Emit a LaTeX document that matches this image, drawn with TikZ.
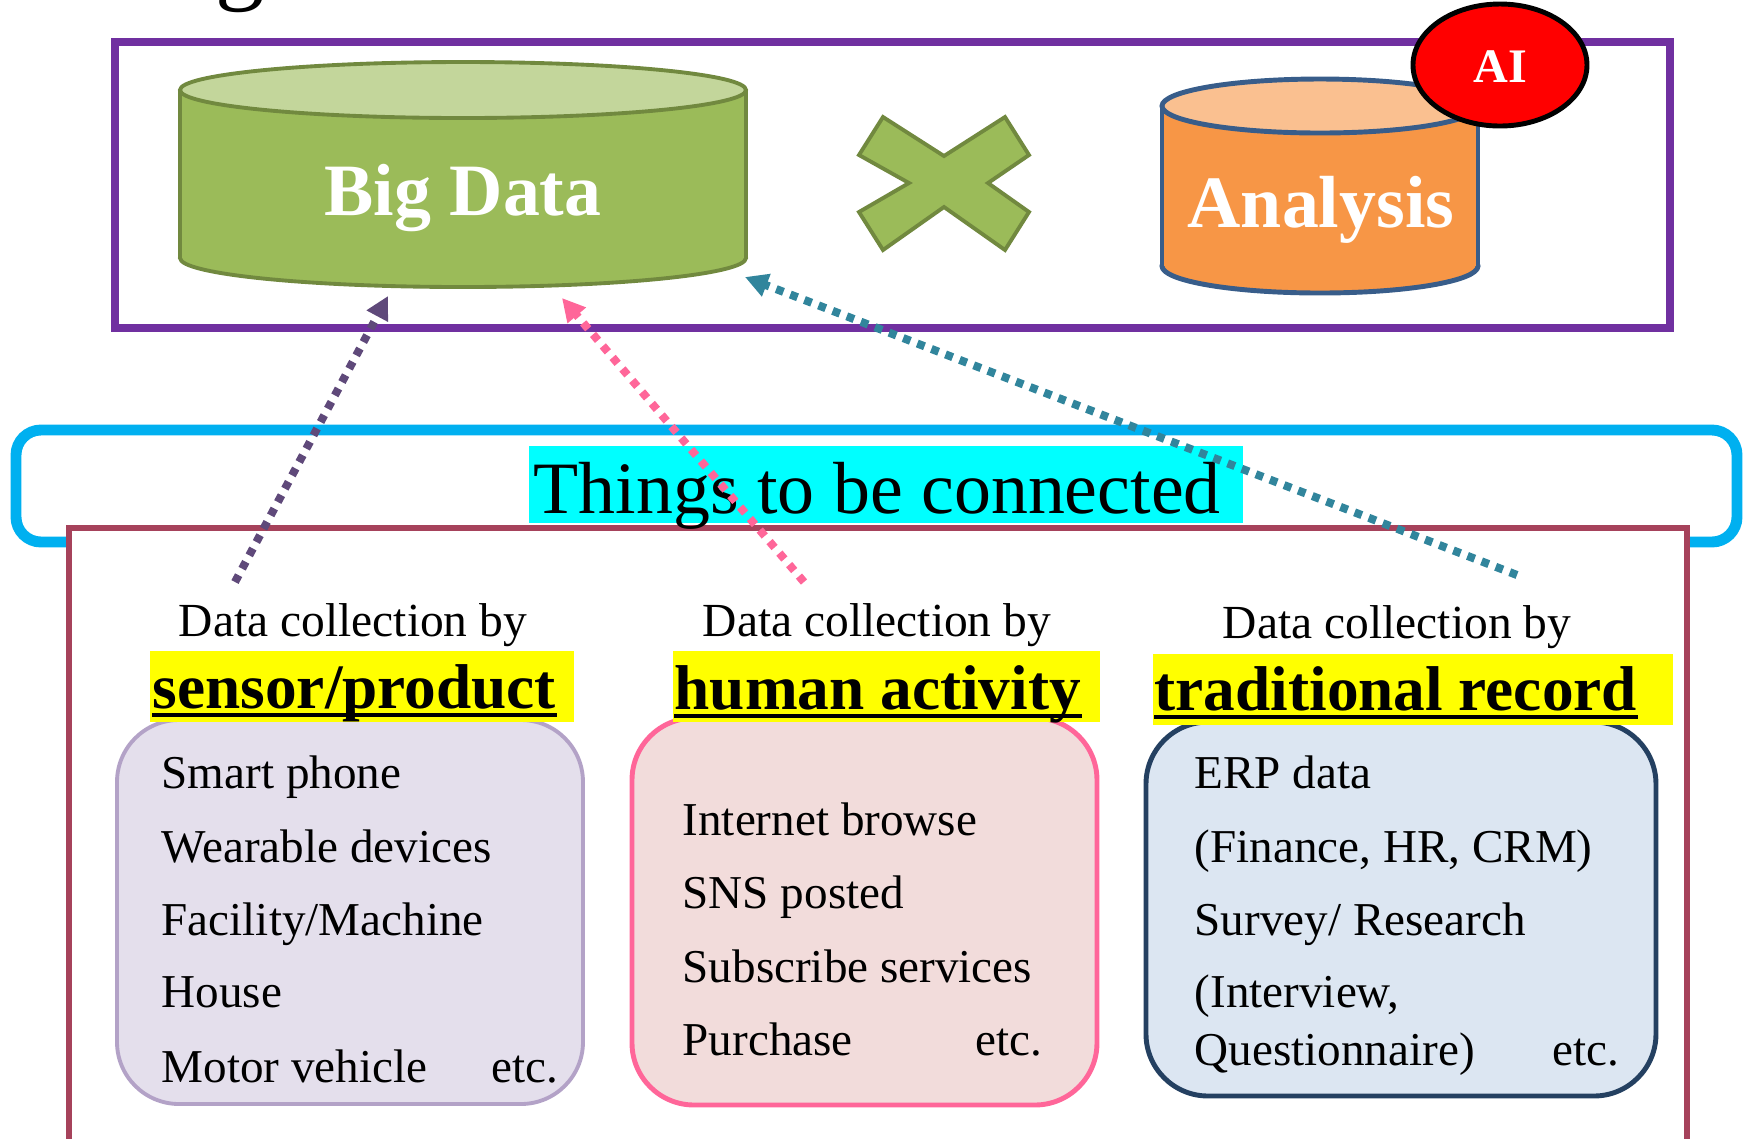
\documentclass[tikz,border=0pt]{standalone}
\usepackage{fontspec}
\setmainfont{Liberation Serif}
\usetikzlibrary{arrows.meta}
\definecolor{framepurple}{RGB}{112,48,160}
\definecolor{bdfill}{HTML}{9BBB59}
\definecolor{bdtop}{HTML}{C3D69B}
\definecolor{bdline}{HTML}{71893F}
\definecolor{anfill}{HTML}{F79646}
\definecolor{antop}{HTML}{FAC090}
\definecolor{anline}{HTML}{385D8A}
\definecolor{skyblue}{HTML}{00B0F0}
\definecolor{maroonline}{RGB}{166,66,91}
\definecolor{boxAfill}{HTML}{E4DFEC}
\definecolor{boxAline}{HTML}{B3A2C7}
\definecolor{boxBfill}{HTML}{F2DCDB}
\definecolor{boxBline}{RGB}{255,102,153}
\definecolor{boxCfill}{HTML}{DCE6F2}
\definecolor{boxCline}{RGB}{36,64,97}
\definecolor{arrpurple}{HTML}{5F497A}
\definecolor{arrpink}{RGB}{255,102,153}
\definecolor{arrteal}{HTML}{31859C}
\definecolor{hlcyan}{RGB}{0,255,255}
\definecolor{hlyellow}{RGB}{255,255,0}
\definecolor{badgered}{RGB}{255,0,0}
\tikzset{
  bigtxt/.style={anchor=base, inner sep=0, text=white, font=\fontsize{21}{25}\selectfont\bfseries},
  dctxt/.style={anchor=base, inner sep=0, font=\fontsize{13.5}{16}\selectfont},
  headtxt/.style={anchor=base west, inner sep=0, font=\fontsize{18}{21}\selectfont\bfseries},
  itemtxt/.style={anchor=base west, inner sep=0, font=\fontsize{13.4}{16}\selectfont},
  uline/.style={line width=1pt},
  dotarrow/.style={line width=2.3pt, dash pattern=on 2.2pt off 2.1pt, -{Triangle[length=6.5pt,width=6.5pt]}},
  roundbox/.style={rounded corners=0.62cm},
}
\begin{document}
\begin{tikzpicture}[x=0.01cm,y=-0.01cm]
\useasboundingbox (0,0) rectangle (1750,1138);

% cut-off title fragment
\node[anchor=base, inner sep=0, font=\fontsize{28}{30}\selectfont] (titlefrag) at (240,-9) {g};

% top frame
\draw[framepurple, line width=2pt] (115,42) rectangle (1670,328);

% Big Data cylinder
\filldraw[fill=bdfill, draw=bdline, line width=1.1pt] (463,258) ellipse [x radius=283, y radius=29];
\fill[bdfill] (180,90) rectangle (746,258);
\draw[bdline, line width=1.1pt] (180,90) -- (180,258) (746,90) -- (746,258);
\filldraw[fill=bdtop, draw=bdline, line width=1.1pt] (463,90) ellipse [x radius=283, y radius=28];
\node[bigtxt] (bigdata) at (463,215) {Big Data};

% cross
\filldraw[fill=bdfill, draw=bdline, line width=1.1pt]
  (883,117) -- (944,156) -- (1005,117) -- (1029,155) -- (988,183) -- (1029,212)
  -- (1005,250) -- (944,207) -- (883,250) -- (859,212) -- (909,183) -- (859,155) -- cycle;

% Analysis cylinder
\filldraw[fill=anfill, draw=anline, line width=1.4pt] (1320,266) ellipse [x radius=158, y radius=27];
\fill[anfill] (1162,106) rectangle (1478,266);
\draw[anline, line width=1.4pt] (1162,106) -- (1162,266) (1478,106) -- (1478,266);
\filldraw[fill=antop, draw=anline, line width=1.4pt] (1320,106) ellipse [x radius=158, y radius=27];
\node[bigtxt] (analysis) at (1321,227) {Analysis};

% AI badge
\filldraw[fill=badgered, draw=black, line width=1.4pt] (1500,65) ellipse [x radius=87, y radius=61];
\node[anchor=base, inner sep=0, text=white, font=\fontsize{13.7}{16}\selectfont\bfseries] (ai) at (1500,82) {AI};

% Things to be connected
\draw[skyblue, line width=3.1pt, rounded corners=0.25cm] (16,430) rectangle (1737,542);
\filldraw[fill=white, draw=maroonline, line width=1.85pt] (69,528) rectangle (1687,1250);
\fill[hlcyan] (529,446) rectangle (1243,523);
\node[anchor=base west, inner sep=0, font=\fontsize{21}{25}\selectfont] (things) at (533,513) {Things to be connected};

% boxes
\filldraw[roundbox, fill=boxAfill, draw=boxAline, line width=1.1pt] (117,720) rectangle (583,1104);
\filldraw[roundbox, fill=boxBfill, draw=boxBline, line width=1.4pt] (632,718) rectangle (1097,1105);
\filldraw[roundbox, fill=boxCfill, draw=boxCline, line width=1.4pt] (1146,722) rectangle (1656,1096);

% headings
\node[dctxt] (dc1) at (353,636) {Data collection by};
\node[dctxt] (dc2) at (877,636) {Data collection by};
\node[dctxt] (dc3) at (1397,638) {Data collection by};

\fill[hlyellow] (150,651) rectangle (574,722);
\fill[hlyellow] (673,651) rectangle (1100,722);
\fill[hlyellow] (1153,654) rectangle (1673,725);
\node[headtxt] (h1) at (152,708) {sensor/product};
\node[headtxt] (h2) at (674,709) {human activity};
\node[headtxt] (h3) at (1154,710) {traditional record};
\draw[uline] ([yshift=-2pt]h1.base west) -- ([yshift=-2pt]h1.base east);
\draw[uline] ([yshift=-2pt]h2.base west) -- ([yshift=-2pt]h2.base east);
\draw[uline] ([yshift=-2pt]h3.base west) -- ([yshift=-2pt]h3.base east);

% box 1 items
\node[itemtxt] (a1) at (161,788) {Smart phone};
\node[itemtxt] (a2) at (161,862) {Wearable devices};
\node[itemtxt] (a3) at (161,935) {Facility/Machine};
\node[itemtxt] (a4) at (161,1007) {House};
\node[itemtxt] (a5) at (161,1082) {Motor vehicle};
\node[itemtxt] (a6) at (491,1082) {etc.};

% box 2 items
\node[itemtxt] (b1) at (682,835) {Internet browse};
\node[itemtxt] (b2) at (682,908) {SNS posted};
\node[itemtxt] (b3) at (682,982) {Subscribe services};
\node[itemtxt] (b4) at (682,1055) {Purchase};
\node[itemtxt] (b5) at (975,1055) {etc.};

% box 3 items
\node[itemtxt] (c1) at (1194,788) {ERP data};
\node[itemtxt] (c2) at (1194,862) {(Finance, HR, CRM)};
\node[itemtxt] (c3) at (1194,935) {Survey/ Research};
\node[itemtxt] (c4) at (1194,1007) {(Interview,};
\node[itemtxt] (c5) at (1194,1065) {Questionnaire)};
\node[itemtxt] (c6) at (1552,1065) {etc.};

% connectors
\coordinate (tailA) at (235,582);
\coordinate (tailB) at (804,582);
\coordinate (tailC) at (1517,575);
\coordinate (inA) at (388,296);
\coordinate (inB) at (562,298);
\coordinate (inC) at (745,277);
\draw[dotarrow, arrpurple] (tailA) -- (inA);
\draw[dotarrow, arrpink] (tailB) -- (inB);
\draw[dotarrow, arrteal] (tailC) -- (inC);
\end{tikzpicture}
\end{document}
